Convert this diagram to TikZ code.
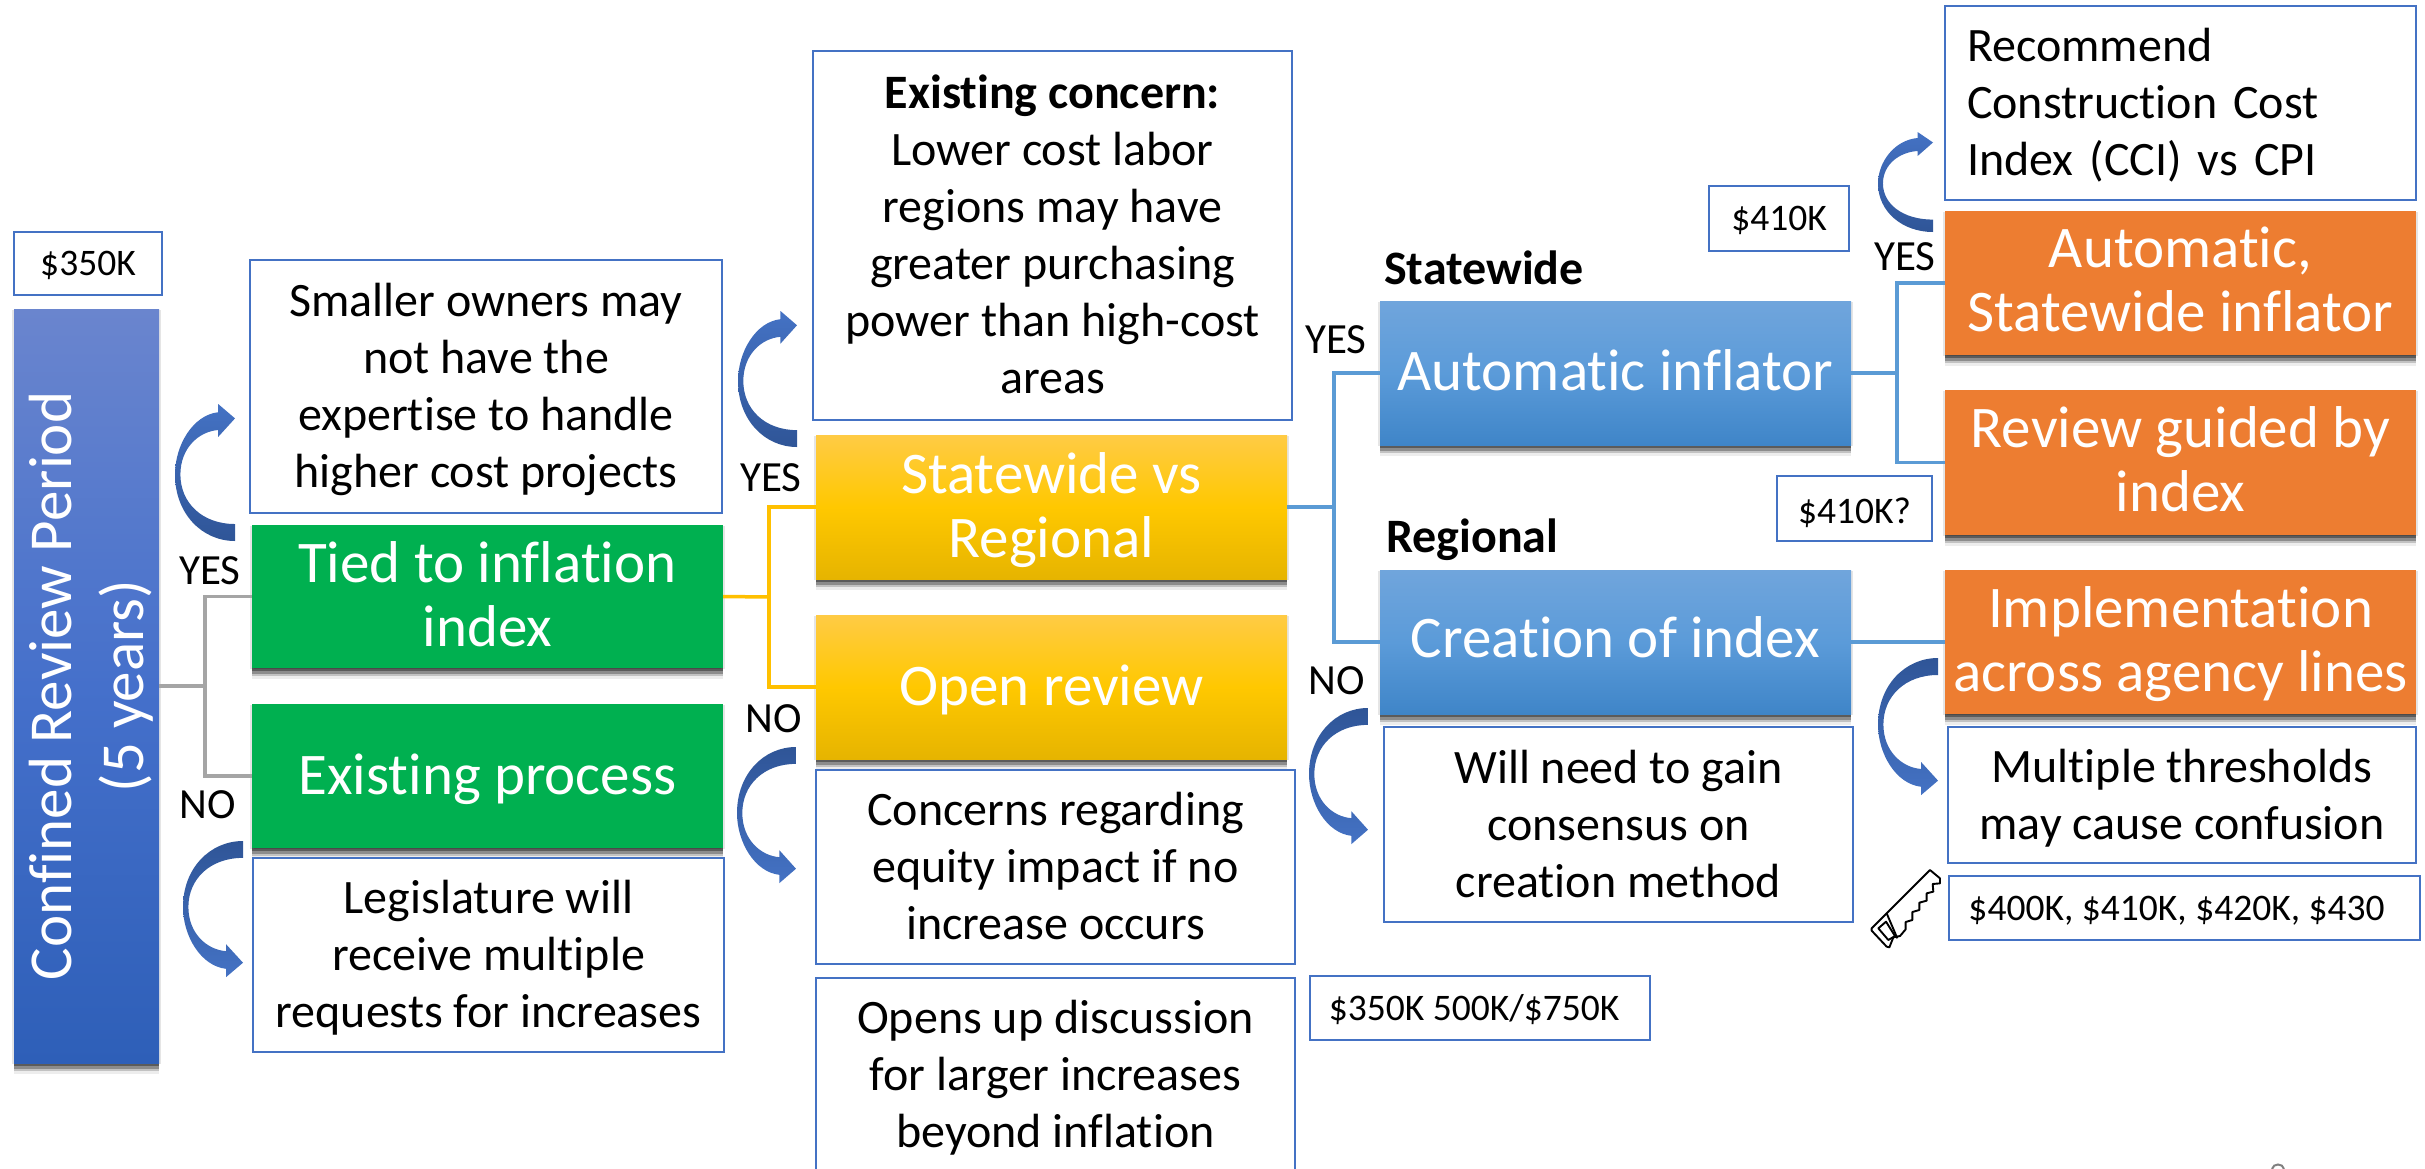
\documentclass[tikz,border=0pt]{standalone}
\usepackage{fontspec}
\setmainfont[Ligatures={NoCommon}]{Carlito}
\usetikzlibrary{shadows}
\definecolor{cborder}{HTML}{4472C4}
\definecolor{clinegray}{HTML}{A5A5A5}
\definecolor{clineyel}{HTML}{FFC000}
\definecolor{clineblue}{HTML}{5B9BD5}
\definecolor{cgreen}{HTML}{00B050}
\definecolor{corange}{HTML}{ED7D31}
\definecolor{arrowlight}{HTML}{4472C4}
\definecolor{arrowdark}{HTML}{2F5597}
\definecolor{yeltop}{HTML}{FFCB45}
\definecolor{yelbot}{HTML}{E6B400}
\definecolor{yelmid}{HTML}{FFC800}
\definecolor{blutop}{HTML}{70A5DC}
\definecolor{blubot}{HTML}{3F85C8}
\definecolor{blumid}{HTML}{5B9BD9}
\definecolor{navtop}{HTML}{6A85CE}
\definecolor{navbot}{HTML}{2E5FB8}
\definecolor{navmid}{HTML}{4570CB}
\tikzset{
  softshadow/.style={
    general shadow={shadow xshift=-2pt,shadow yshift=-1pt,fill=black,opacity=.10},
    general shadow={shadow xshift=2pt,shadow yshift=-1pt,fill=black,opacity=.10},
    general shadow={shadow xshift=0pt,shadow yshift=-11pt,fill=black,opacity=.07},
    general shadow={shadow xshift=0pt,shadow yshift=-8pt,fill=black,opacity=.18},
    general shadow={shadow xshift=0pt,shadow yshift=-6pt,fill=black,opacity=.28},
    general shadow={shadow xshift=0pt,shadow yshift=-3pt,fill=black,opacity=.35}},
  basebox/.style={rectangle,inner sep=0pt,align=center},
  note/.style={basebox,draw=cborder,line width=2.5pt,fill=white,text=black,font=\fontsize{48}{57}\selectfont},
  tag/.style={basebox,draw=cborder,line width=2.5pt,fill=white,text=black,font=\fontsize{37.5}{44}\selectfont},
  greenbox/.style={basebox,softshadow,fill=cgreen,text=white,font=\fontsize{59}{64}\selectfont},
  orangebox/.style={basebox,softshadow,fill=corange,text=white,font=\fontsize{59}{64}\selectfont},
  yellowbox/.style={basebox,softshadow,top color=yeltop,bottom color=yelbot,middle color=yelmid,text=white,font=\fontsize{59}{64}\selectfont},
  bluebox/.style={basebox,softshadow,top color=blutop,bottom color=blubot,middle color=blumid,text=white,font=\fontsize{59}{64}\selectfont},
  navybox/.style={basebox,softshadow,top color=navtop,bottom color=navbot,middle color=navmid},
  yn/.style={inner sep=0pt,text=black,font=\fontsize{43}{46}\selectfont},
  head/.style={inner sep=0pt,anchor=west,text=black,font=\fontsize{48}{50}\selectfont\bfseries},
  grayline/.style={draw=clinegray,line width=3.5pt},
  yelline/.style={draw=clineyel,line width=3.5pt},
  blueline/.style={draw=clineblue,line width=3.5pt},
}
% text block moved down by an offset, its reported size unchanged
\newcommand\lowered[3]{\raisebox{-#1pt}[\height][\depth]{\begin{tabular}{@{}#2@{}}#3\end{tabular}}}
% box from corners: [text offset] name, style, x1, y1, x2, y2, text
\newcommand\bx[8][0]{\node[#3,minimum width={(#6-#4)*1pt},minimum height={(#7-#5)*1pt}] (#2) at ({(#4+#6)/2},{(#5+#7)/2}) {\lowered{#1}{c}{#8}};}
\newcommand\bendshape{(1,1) .. controls (0.45,1) and (0,0.8) .. (0,0.515)
  .. controls (0,0.3) and (0.3,0.08) .. (0.72,0.06) -- (0.72,0) -- (1,0.105) -- (0.72,0.24) -- (0.72,0.19)
  .. controls (0.4,0.2) and (0.09,0.32) .. (0.09,0.515)
  .. controls (0.09,0.72) and (0.45,0.876) .. (1,0.876) -- cycle}
% left, right, top, bottom
\newcommand\bendup[4]{\pgfmathsetmacro\bendW{#2-#1}\pgfmathsetmacro\bendH{#3-#4}%
  \begin{scope}[shift={(#1,#3)},x=\bendW pt,y=\bendH pt]
  \shade[top color=arrowlight,bottom color=arrowdark] \bendshape;\end{scope}}
\newcommand\benddown[4]{\pgfmathsetmacro\bendW{#2-#1}\pgfmathsetmacro\bendH{#4-#3}%
  \begin{scope}[shift={(#1,#4)},x=\bendW pt,y=\bendH pt]
  \shade[top color=arrowdark,bottom color=arrowlight] \bendshape;\end{scope}}
\begin{document}
\begin{tikzpicture}[x=1pt,y=-1pt]
\useasboundingbox (0,0) rectangle (2425,1168);
% nodes
\bx[3]{tag350}{tag}{14}{232}{162}{295}{\$350K}
\bx{conf}{navybox}{14}{309}{159}{1063}{}
\node[rotate=90,inner sep=0pt,align=center,text=white,font=\fontsize{61}{72}\selectfont] (conftext) at ([xshift=5pt]conf.center) {Confined Review Period\\(5 years)};
\bx[4]{smaller}{note}{250}{260}{722}{513}{Smaller owners may\\not have the\\expertise to handle\\higher cost projects}
\bx[5]{tied}{greenbox}{252}{525}{723}{668}{Tied to inflation\\index}
\bx[6]{exist}{greenbox}{252}{704}{723}{848}{Existing process}
\bx[4]{legis}{note}{253}{858}{724}{1052}{Legislature will\\receive multiple\\requests for increases}
\bx[4]{concern}{note}{813}{51}{1292}{420}{\textbf{Existing concern:}\\Lower cost labor\\regions may have\\greater purchasing\\power than high-cost\\areas}
\bx[5.5]{state}{yellowbox}{816}{435}{1287}{579}{Statewide vs\\Regional}
\bx[6]{open}{yellowbox}{816}{615}{1287}{759}{Open review}
\bx[4.5]{equity}{note}{816}{770}{1295}{964}{Concerns regarding\\equity impact if no\\increase occurs}
\draw[draw=cborder,line width=2.5pt] (816,1170) -- (816,978) -- (1295,978) -- (1295,1170);
\node[basebox,text=black,font=\fontsize{48}{57}\selectfont] (opens) at (1055.5,1078) {Opens up discussion\\for larger increases\\beyond inflation};
\bx[4]{tag750}{tag}{1310}{976}{1650}{1040}{\hspace*{-12pt}\$350K 500K/\$750K}
\node[head] (lblstate) at (1384,268) {Statewide};
\node[head] (lblreg) at (1386,540) {Regional};
\bx[5]{auto}{bluebox}{1380}{301}{1851}{445}{Automatic inflator}
\bx[3]{create}{bluebox}{1380}{570}{1851}{714}{Creation of index}
\bx[4.5]{gain}{note}{1384}{727}{1853}{922}{Will need to gain\\consensus on\\creation method}
\bx[3]{tag410}{tag}{1709}{186}{1849}{251}{\$410K}
\bx[6]{tag410q}{tag}{1777}{476}{1932}{541}{\$410K?}
\node[note,minimum width=471pt,minimum height=194pt,text width=427pt,inner xsep=22pt,align=left] (recom) at (2180.5,103) {\lowered{4.5}{l}{Recommend\\Construction Cost\\Index (CCI) vs CPI}};
\bx[4]{autost}{orangebox}{1945}{211}{2416}{355}{Automatic,\\Statewide inflator}
\bx[4.5]{guided}{orangebox}{1945}{390}{2416}{535}{Review guided by\\index}
\bx[5]{impl}{orangebox}{1945}{570}{2416}{714}{Implementation\\across agency lines}
\bx[5]{multi}{note}{1948}{727}{2416}{863}{Multiple thresholds\\may cause confusion}
\bx[4]{tag400}{tag}{1949}{876}{2420}{940}{\hspace*{-16pt}\$400K, \$410K, \$420K, \$430}
% connectors
\coordinate (j1) at (205,686);
\draw[grayline] (conf.east) -- (j1);
\draw[grayline] (tied.west) -| (j1) |- (exist.west);
\coordinate (j2) at (769,597);
\draw[yelline] (tied.east) -- (j2);
\draw[yelline] (state.west) -| (j2) |- (open.west);
\coordinate (j3) at (1334,507);
\draw[blueline] (state.east) -- (j3);
\draw[blueline] (auto.west) -| (j3) |- (create.west);
\coordinate (j4) at (1897,373);
\draw[blueline] (auto.east) -- (j4);
\draw[blueline] (autost.west) -| (j4) |- (guided.west);
\draw[blueline] (create.east) -- (impl.west);
% labels
\node[yn] (y1) at (210,571) {YES};
\node[yn] (n1) at (208,805) {NO};
\node[yn] (y2) at (771,478) {YES};
\node[yn] (n2) at (774,719) {NO};
\node[yn] (y3) at (1336,340) {YES};
\node[yn] (n3) at (1337,681) {NO};
\node[yn] (y4) at (1905,257) {YES};
% bent arrows
\bendup{175}{235}{404}{541}
\bendup{738}{797}{311}{447}
\bendup{1878}{1933}{132}{232}
\benddown{183}{243}{841}{977}
\benddown{737}{796}{747}{883}
\benddown{1309}{1368}{708}{844}
\benddown{1878}{1938}{658}{795}
% saw
\begin{scope}[shift={(1860,860)},x=0.3333pt,y=-0.3333pt,line width=1.9pt,line join=round]
\draw (80,160) -- (210,30) -- (240,55) -- (240,70) -- (218,72) -- (220,95) -- (200,100) -- (200,122) -- (178,128) -- (178,150) -- (157,156) -- (157,180) -- (137,186) -- (137,208) -- (120,228) -- (100,232) -- (88,262) -- (80,260) -- (35,212) -- (35,205) -- cycle;
\draw (80,160) -- (112,235);
\draw (55,205) -- (78,185) -- (105,228) -- (85,240) -- cycle;
\end{scope}
% clipped slide number trace
\draw[gray,line width=2pt] (2272,1169) .. controls (2273,1163) and (2283,1163) .. (2284,1169);
\end{tikzpicture}
\end{document}
